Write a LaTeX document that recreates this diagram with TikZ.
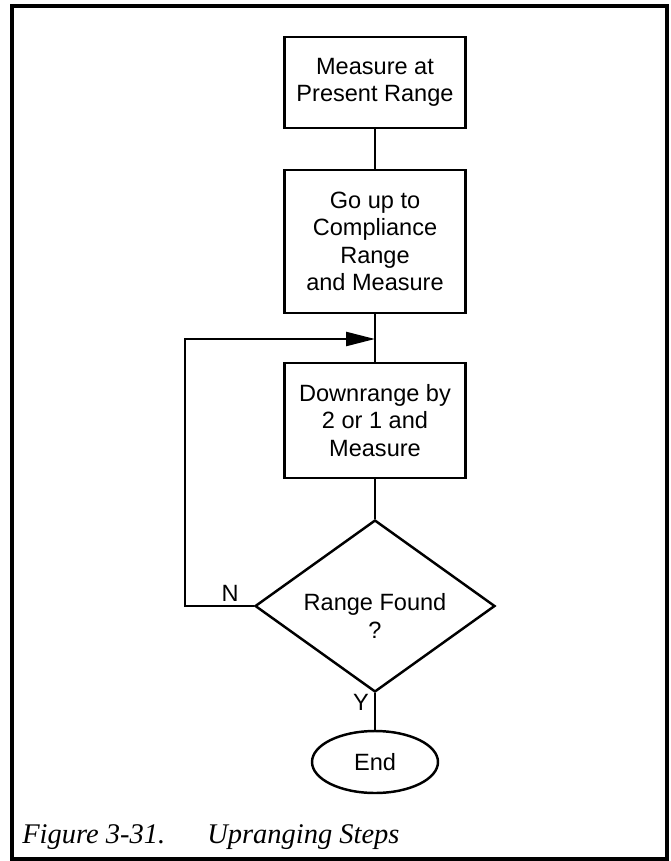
\documentclass[tikz,border=0pt]{standalone}
\usepackage{fontspec}
\newfontfamily\boxfont{Liberation Sans}
\newfontfamily\capfont{Liberation Serif}
\usetikzlibrary{shapes.geometric,arrows.meta,positioning}

\tikzset{
    flow/.style={line width=1.4pt},
    stepbox/.style={draw, line width=1.5pt, minimum width=3.62cm, inner sep=0pt,
        align=center, font=\boxfont\fontsize{13.4}{15.5}\selectfont},
    decision/.style={diamond, draw, line width=1.4pt, aspect=1.4, inner sep=0pt,
        minimum width=4.8cm, minimum height=3.44cm},
    terminal/.style={ellipse, draw, line width=1.4pt, inner sep=0pt,
        minimum width=2.52cm, minimum height=1.24cm,
        font=\boxfont\fontsize{13.4}{15.5}\selectfont},
    flowtag/.style={inner sep=0pt, align=center, font=\boxfont\fontsize{13.4}{16.2}\selectfont},
    caption/.style={inner sep=0pt, anchor=base west, font=\capfont\itshape\fontsize{16.2}{19}\selectfont}
}

\begin{document}
\begin{tikzpicture}[x=0.02cm, y=-0.02cm]
    \useasboundingbox (0,0) rectangle (670,861);
    % outer frame
    \draw[line width=1.9pt] (12,6) rectangle (667,859);

    % Steps
    \node[stepbox, minimum height=1.82cm] (measure) at (375,82.5) {Measure at\\Present Range};
    \node[stepbox, minimum height=2.86cm] (goup) at (375,241.5) {Go up to\\Compliance\\Range\\and Measure};
    \node[stepbox, minimum height=2.3cm] (down) at (375,420.5) {Downrange by\\2 or 1 and\\Measure};
    \node[decision, label={[flowtag, yshift=-0.2cm]center:Range Found\\?}] (found) at (375,606) {};
    \node[terminal] (end) at (375,762) {End};
    \coordinate (join) at (375,339);

    % Connectors
    \draw[flow] (measure) -- (goup);
    \draw[flow] (goup) -- (down);
    \draw[flow] (down) -- (found);
    \draw[flow] (found) -- (end);
    \draw[flow, -{Triangle[length=0.58cm, width=0.28cm]}] (found.west) -- ++(-69,0) |- (join);

    % Labels
    \node[flowtag] (no) at (230,593) {N};
    \node[flowtag] (yes) at (361,702) {Y};

    \node[caption] (fignum) at (22,843) {Figure 3-31.};
    \node[caption] (figtitle) at (207,843) {Upranging Steps};
\end{tikzpicture}
\end{document}
